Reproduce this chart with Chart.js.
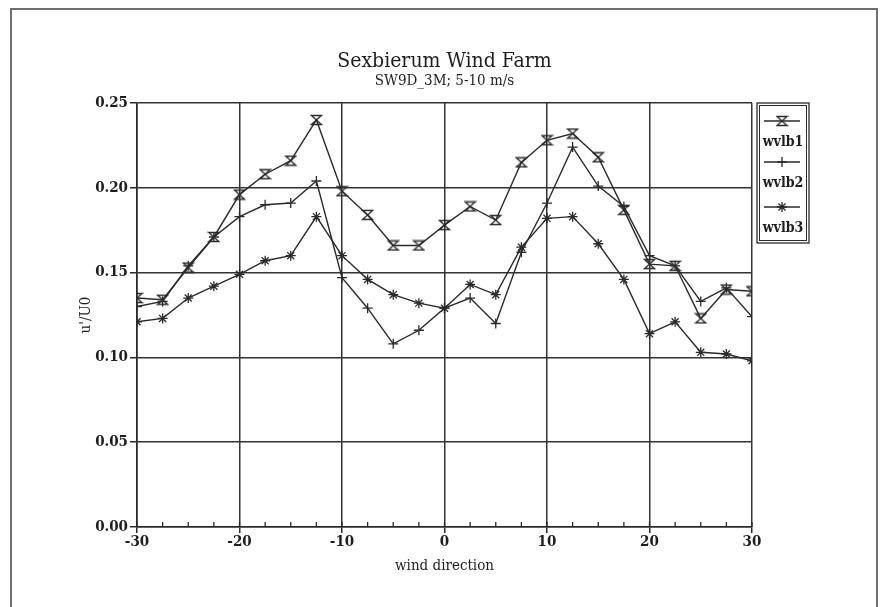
<!DOCTYPE html>
<html lang="en">
<head>
  <meta charset="UTF-8" />
  <title>Sexbierum Wind Farm</title>
  <script src="https://cdn.jsdelivr.net/npm/chart.js@4.4.0"></script>
  <style>
    * { box-sizing: border-box; margin: 0; padding: 0; }
    body { background: #fff; width: 880px; height: 607px; overflow: hidden; position: relative; }
    .frame {
      position: absolute; left: 10px; top: 8px; width: 868px; height: 640px;
      border: 2px solid #707070;
    }
    .chart-box { position: absolute; left: 0; top: 0; width: 880px; height: 607px; }
  </style>
</head>
<body>
  <div class="frame"></div>
  <div class="chart-box"><canvas id="windChart" width="880" height="607"></canvas></div>

  <script>
    // wind direction (deg), every 2.5
    const direction = [-30, -27.5, -25, -22.5, -20, -17.5, -15, -12.5, -10, -7.5, -5, -2.5,
                       0, 2.5, 5, 7.5, 10, 12.5, 15, 17.5, 20, 22.5, 25, 27.5, 30];
    // u'/U0 per sensor
    const wvlb1 = [0.135, 0.134, 0.153, 0.171, 0.196, 0.208, 0.216, 0.240, 0.198, 0.184, 0.166, 0.166,
                   0.178, 0.189, 0.181, 0.215, 0.228, 0.232, 0.218, 0.187, 0.155, 0.154, 0.123, 0.140, 0.139];
    const wvlb2 = [0.130, 0.133, 0.154, 0.171, 0.183, 0.190, 0.191, 0.204, 0.147, 0.129, 0.108, 0.116,
                   0.129, 0.135, 0.120, 0.162, 0.191, 0.224, 0.201, 0.189, 0.160, 0.154, 0.133, 0.141, 0.124];
    const wvlb3 = [0.121, 0.123, 0.135, 0.142, 0.149, 0.157, 0.160, 0.183, 0.160, 0.146, 0.137, 0.132,
                   0.129, 0.143, 0.137, 0.165, 0.182, 0.183, 0.167, 0.146, 0.114, 0.121, 0.103, 0.102, 0.098];
    const seriesNames = ['wvlb1', 'wvlb2', 'wvlb3'];
    const titleText = 'Sexbierum Wind Farm';
    const subtitleText = 'SW9D_3M; 5-10 m/s';
    const xTitle = 'wind direction';
    const yTitle = "u'/U0";

    const INK = '#2a2a2a';
    const FONT = '"DejaVu Serif Condensed", "DejaVu Serif", serif';

    // hourglass marker drawn once into a small canvas
    function hourglass() {
      const c = document.createElement('canvas');
      c.width = 13; c.height = 12;
      const g = c.getContext('2d');
      g.strokeStyle = INK; g.lineWidth = 1.4;
      g.beginPath();
      g.moveTo(1.5, 1.5); g.lineTo(11.5, 1.5); g.lineTo(1.5, 10.5); g.lineTo(11.5, 10.5); g.closePath();
      g.stroke();
      return c;
    }

    const mk = (vals, name, style, radius) => ({
      label: name,
      data: direction.map((x, i) => ({ x, y: vals[i] })),
      borderColor: INK,
      borderWidth: 1.4,
      pointStyle: style,
      pointRadius: radius,
      pointBorderColor: INK,
      pointBorderWidth: 1.3,
      pointBackgroundColor: 'transparent',
      tension: 0,
      fill: false
    });

    // titles, axis titles, inner minor ticks and the boxed legend
    const decor = {
      id: 'decor',
      afterDraw(chart) {
        const { ctx, chartArea: a, scales } = chart;
        const cx = (a.left + a.right) / 2;
        ctx.save();
        ctx.fillStyle = '#1e1e1e';
        ctx.textAlign = 'center';
        ctx.textBaseline = 'middle';
        ctx.font = '21px ' + FONT;
        ctx.fillText(titleText, cx, 62);
        ctx.font = '15px ' + FONT;
        ctx.fillText(subtitleText, cx, 81);
        ctx.fillText(xTitle, cx, 566);
        ctx.save();
        ctx.translate(86, (a.top + a.bottom) / 2);
        ctx.rotate(-Math.PI / 2);
        ctx.fillText(yTitle, 0, 0);
        ctx.restore();

        // minor ticks pointing into the plot
        ctx.strokeStyle = INK; ctx.lineWidth = 1.3;
        ctx.beginPath();
        direction.forEach(v => {
          const px = scales.x.getPixelForValue(v);
          ctx.moveTo(px, a.bottom); ctx.lineTo(px, a.bottom - 5);
        });
        ctx.stroke();

        // legend
        const lx = a.right + 5, ly = a.top, lw = 52, lh = 140;
        ctx.lineWidth = 1.3;
        ctx.strokeRect(lx, ly, lw, lh);
        ctx.lineWidth = 1;
        ctx.strokeRect(lx + 2.5, ly + 2.5, lw - 5, lh - 5);
        const rows = [121, 162, 207];
        chart.data.datasets.forEach((ds, i) => {
          const y = rows[i], mx = lx + lw / 2;
          ctx.lineWidth = 1.3;
          ctx.beginPath(); ctx.moveTo(lx + 7, y); ctx.lineTo(lx + lw - 9, y); ctx.stroke();
          Chart.helpers.drawPoint(ctx, {
            pointStyle: ds.pointStyle, radius: ds.pointRadius, borderWidth: 1.3, rotation: 0
          }, mx - 1, y);
          ctx.font = 'bold 14px ' + FONT;
          ctx.fillText(ds.label, mx, y + 21);
        });
        ctx.restore();
      }
    };

    new Chart(document.getElementById('windChart'), {
      type: 'line',
      data: {
        datasets: [
          mk(wvlb1, seriesNames[0], hourglass(), 6),
          mk(wvlb2, seriesNames[1], 'cross', 5),
          mk(wvlb3, seriesNames[2], 'star', 5)
        ]
      },
      options: {
        responsive: false,
        animation: false,
        events: [],
        layout: { padding: { left: 20, right: 128, top: 103, bottom: 20 } },
        plugins: { legend: { display: false }, tooltip: { enabled: false } },
        scales: {
          x: {
            type: 'linear', min: -30, max: 30,
            afterFit: s => { s.height = 60; },
            ticks: { stepSize: 10, color: '#1e1e1e', padding: 0, font: { family: FONT, size: 15, weight: 'bold' } },
            grid: { color: '#333', lineWidth: 1.5, tickLength: 6, tickColor: INK },
            border: { color: INK, width: 1.6 }
          },
          y: {
            type: 'linear', min: 0, max: 0.25,
            afterFit: s => { s.width = 117; },
            ticks: {
              stepSize: 0.05, color: '#1e1e1e', padding: 2,
              font: { family: FONT, size: 15, weight: 'bold' },
              callback: v => v.toFixed(2)
            },
            grid: { color: '#333', lineWidth: 1.5, tickLength: 7, tickColor: INK },
            border: { color: INK, width: 1.6 }
          }
        }
      },
      plugins: [decor]
    });
  </script>
</body>
</html>
